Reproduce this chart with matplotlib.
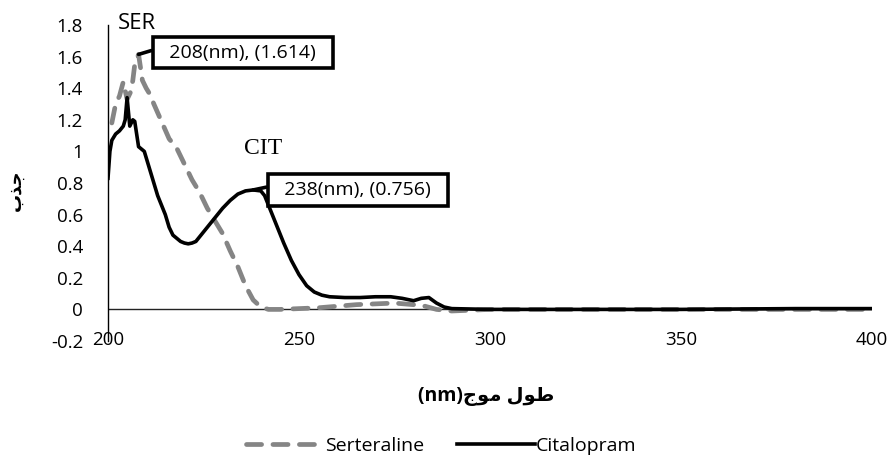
import matplotlib
matplotlib.use('Agg')
import matplotlib.pyplot as plt

plt.rcParams['font.family'] = ['Open Sans', 'DejaVu Sans']

# Serteraline (SER) absorbance
ser_wl = [201, 202, 203, 204, 205, 206, 206.5, 207, 208, 209, 210, 211, 212,
          214, 216, 218, 220, 222, 224, 226, 228, 230, 232, 234, 236, 238,
          240, 242, 245, 250, 255, 260, 265, 270, 275, 280, 283, 286, 290,
          300, 320, 350, 380, 400]
ser_abs = [1.18, 1.30, 1.35, 1.44, 1.33, 1.38, 1.45, 1.55, 1.614, 1.45, 1.40,
           1.36, 1.30, 1.19, 1.08, 1.02, 0.92, 0.82, 0.74, 0.64, 0.56, 0.48,
           0.37, 0.27, 0.15, 0.06, 0.015, 0.0, 0.0, 0.005, 0.01, 0.02, 0.03,
           0.035, 0.04, 0.03, 0.02, 0.0, -0.01, 0.0, 0.0, 0.0, 0.0, 0.0]

# Citalopram (CIT) absorbance
cit_wl = [200, 200.5, 201, 202, 203, 204, 204.5, 205, 205.7, 206.5, 207, 208,
          209.5, 211, 212, 213, 214, 215, 216, 217, 218, 219, 220, 221, 222,
          223, 224, 226, 228, 230, 232, 234, 236, 238, 240, 241, 242, 243,
          244, 246, 248, 250, 252, 254, 256, 258, 262, 266, 270, 274, 277,
          280, 282, 284, 286, 288, 290, 300, 320, 350, 380, 400]
cit_abs = [0.83, 1.0, 1.07, 1.11, 1.13, 1.16, 1.2, 1.34, 1.16, 1.2, 1.19,
           1.03, 1.0, 0.88, 0.80, 0.72, 0.66, 0.60, 0.52, 0.47, 0.45, 0.43,
           0.42, 0.415, 0.42, 0.43, 0.46, 0.52, 0.58, 0.64, 0.69, 0.73, 0.75,
           0.756, 0.75, 0.72, 0.66, 0.60, 0.54, 0.42, 0.31, 0.22, 0.15, 0.11,
           0.09, 0.08, 0.075, 0.075, 0.08, 0.08, 0.07, 0.055, 0.07, 0.075,
           0.04, 0.015, 0.005, 0.0, 0.0, 0.0, 0.005, 0.005]

xticks = [200, 250, 300, 350, 400]
yticks = [-0.2, 0, 0.2, 0.4, 0.6, 0.8, 1, 1.2, 1.4, 1.6, 1.8]
ytick_labels = ['-0.2', '0', '0.2', '0.4', '0.6', '0.8', '1', '1.2', '1.4', '1.6', '1.8']

# Arabic labels in presentation forms (visual order)
xlabel_txt = '(nm)\uFE9D\uFEEE\uFEE3 \uFEDD\uFEEE\uFEC3'   # طول موج(nm)
ylabel_txt = '\uFE8F\uFEAC\uFE9F'                          # جذب

fig = plt.figure(figsize=(8.94, 4.61), dpi=100)
ax = fig.add_axes([108/894, 1 - 341/461, (872 - 108)/894, (341 - 25)/461])

ax.plot(ser_wl, ser_abs, color='#858585', lw=3.4, ls=(0, (3.2, 2.4)),
        dash_capstyle='round', label='Serteraline', zorder=3)
ax.plot(cit_wl, cit_abs, color='black', lw=2.6, label='Citalopram', zorder=4)

ax.set_xlim(200, 400)
ax.set_ylim(-0.2, 1.8)
ax.axhline(0, color='#222222', lw=1, zorder=2)

for s in ['top', 'right', 'bottom']:
    ax.spines[s].set_visible(False)
ax.spines['left'].set_linewidth(1)

ax.set_xticks(xticks)
ax.set_yticks(yticks)
ax.set_yticklabels(ytick_labels)
ax.tick_params(axis='both', length=0, labelsize=13.5)
ax.tick_params(axis='y', pad=18)
ax.tick_params(axis='x', pad=-7)

# callouts
box = dict(boxstyle='square,pad=0.35', fc='white', ec='black', lw=2.6)
ax.annotate('  208(nm), (1.614)  ', xy=(208, 1.614), xytext=(235.3, 1.625),
            ha='center', va='center', fontsize=14, bbox=box, zorder=6,
            arrowprops=dict(arrowstyle='-', lw=2.6, color='black',
                            shrinkA=0, shrinkB=0, relpos=(0, 0.75)))
ax.annotate('  238(nm), (0.756)  ', xy=(238, 0.756), xytext=(265.4, 0.756),
            ha='center', va='center', fontsize=14, bbox=box, zorder=6,
            arrowprops=dict(arrowstyle='-', lw=2.6, color='black',
                            shrinkA=0, shrinkB=0, relpos=(0, 0.75)))

ax.text(207.6, 1.81, 'SER', fontsize=16, ha='center', va='center')
ax.text(240.6, 1.02, 'CIT', fontsize=17, family='Liberation Serif',
        ha='center', va='center')

fig.text(486/894, 1 - 396/461, xlabel_txt, fontsize=14, fontweight='bold',
         ha='center', va='center')
fig.text(16/894, 1 - 190/461, ylabel_txt, fontsize=13, fontweight='bold',
         rotation=90, ha='center', va='center')

fig.legend(loc='center', bbox_to_anchor=(441/894, 1 - 446/461), ncol=2,
           frameon=False, fontsize=14, handlelength=4.0, handletextpad=0.05,
           columnspacing=1.7)

fig.savefig('out.png', dpi=100)
